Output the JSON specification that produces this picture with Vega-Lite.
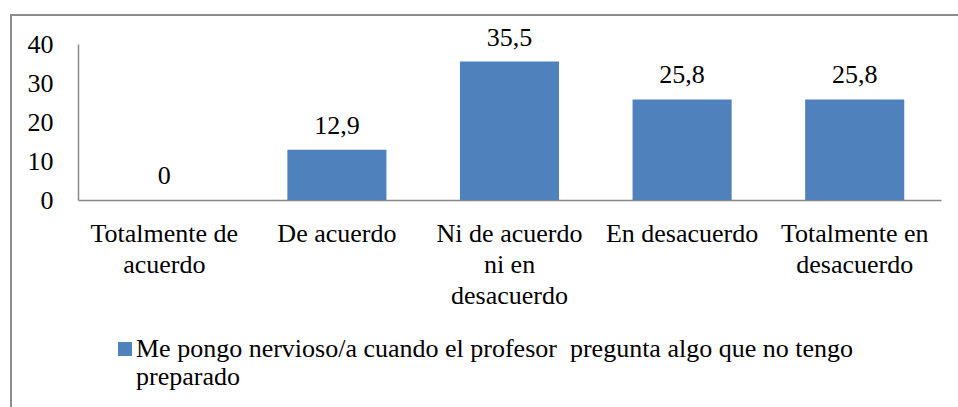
{
  "$schema": "https://vega.github.io/schema/vega-lite/v6.json",
  "width": 947,
  "height": 392,
  "autosize": {"type": "none"},
  "padding": {"left": 11, "top": 15, "right": 0, "bottom": 0},
  "background": "white",
  "config": {
    "view": {"stroke": "#8C8C8C", "strokeWidth": 2, "strokeDash": [947, 1339, 392, 10]},
    "font": "Liberation Serif",
    "locale": {"number": {"decimal": ",", "thousands": ".", "grouping": [3], "currency": ["", " €"]}},
    "axis": {
      "labelFont": "Liberation Serif",
      "labelFontSize": 26,
      "labelColor": "black",
      "domainColor": "#888888",
      "domainWidth": 1.5,
      "ticks": false,
      "grid": false,
      "title": null
    },
    "legend": {
      "labelFont": "Liberation Serif",
      "labelFontSize": 26,
      "labelColor": "black"
    }
  },
  "data": {
    "values": [
      {"categoria": "Totalmente de acuerdo", "valor": 0, "serie": "Me pongo nervioso/a cuando el profesor  pregunta algo que no tengo preparado"},
      {"categoria": "De acuerdo", "valor": 12.9, "serie": "Me pongo nervioso/a cuando el profesor  pregunta algo que no tengo preparado"},
      {"categoria": "Ni de acuerdo ni en desacuerdo", "valor": 35.5, "serie": "Me pongo nervioso/a cuando el profesor  pregunta algo que no tengo preparado"},
      {"categoria": "En desacuerdo", "valor": 25.8, "serie": "Me pongo nervioso/a cuando el profesor  pregunta algo que no tengo preparado"},
      {"categoria": "Totalmente en desacuerdo", "valor": 25.8, "serie": "Me pongo nervioso/a cuando el profesor  pregunta algo que no tengo preparado"}
    ]
  },
  "encoding": {
    "x": {
      "field": "categoria",
      "type": "nominal",
      "sort": null,
      "scale": {"range": [67, 930], "paddingInner": 0.426, "paddingOuter": 0.213},
      "axis": {
        "offset": -207,
        "labelAngle": 0,
        "labelPadding": 20,
        "labelBaseline": "top",
        "labelLineHeight": 31,
        "labelLimit": 0,
        "labelExpr": "datum.value == 'Totalmente de acuerdo' ? ['Totalmente de', 'acuerdo'] : datum.value == 'Ni de acuerdo ni en desacuerdo' ? ['Ni de acuerdo', 'ni en', 'desacuerdo'] : datum.value == 'Totalmente en desacuerdo' ? ['Totalmente en', 'desacuerdo'] : datum.value"
      }
    },
    "y": {
      "field": "valor",
      "type": "quantitative",
      "scale": {"domain": [0, 40], "nice": false, "range": [185, 29]},
      "axis": {"offset": -67, "values": [0, 10, 20, 30, 40], "labelPadding": 25}
    }
  },
  "layer": [
    {
      "mark": {"type": "bar", "color": "#4F81BD"},
      "encoding": {
        "color": {
          "field": "serie",
          "type": "nominal",
          "scale": {"range": ["#4F81BD"]},
          "legend": {
            "title": null,
            "orient": "none",
            "legendX": 101,
            "legendY": 321,
            "symbolType": "square",
            "symbolSize": 196,
            "symbolStrokeWidth": 0,
            "labelOffset": -2,
            "labelLimit": 0,
            "labelBaseline": "middle",
            "labelLineHeight": 28,
            "labelExpr": "['Me pongo nervioso/a cuando el profesor \u00a0pregunta algo que no tengo', 'preparado']"
          }
        }
      }
    },
    {
      "mark": {"type": "text", "baseline": "alphabetic", "dy": -16, "fontSize": 26, "font": "Liberation Serif", "color": "black"},
      "encoding": {
        "text": {"field": "valor", "type": "quantitative", "format": ".1~f"}
      }
    }
  ]
}
